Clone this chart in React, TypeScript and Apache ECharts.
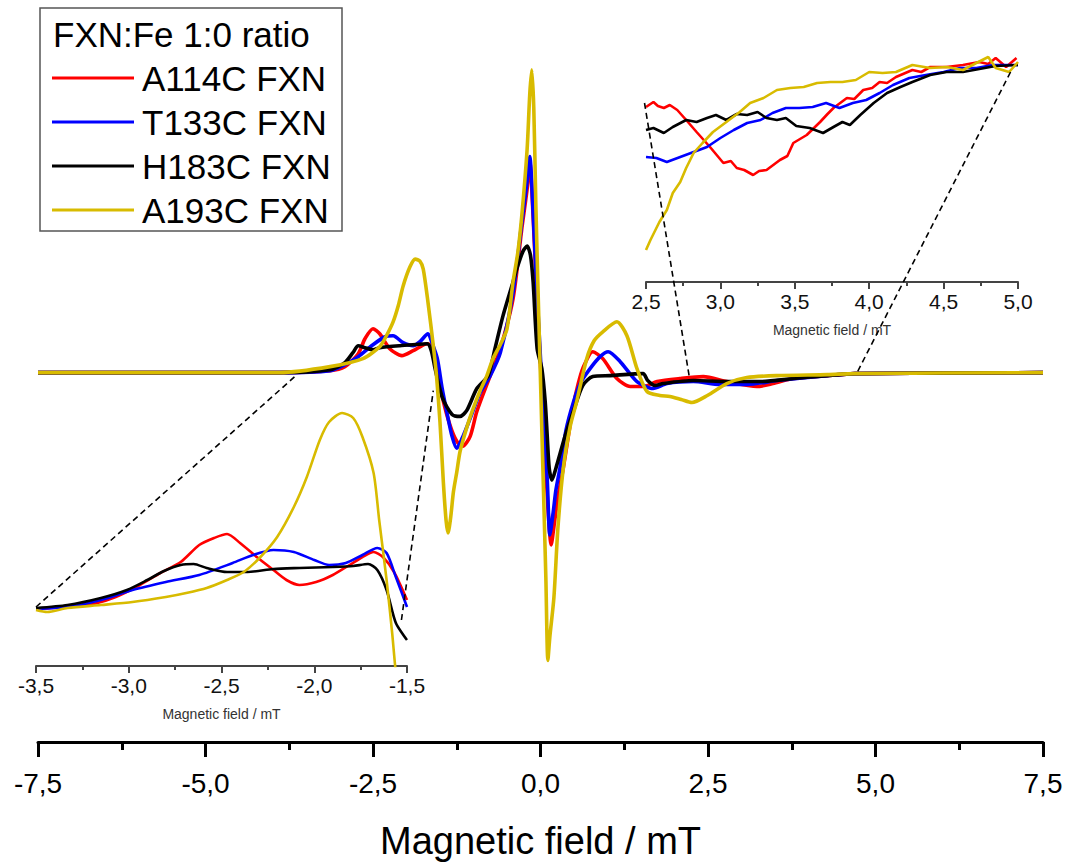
import React, { useEffect, useRef } from "react";
import * as echarts from "echarts";

const SERIES_NAMES = ["A114C FXN", "T133C FXN", "H183C FXN", "A193C FXN"];
const COLORS = ["#ff0000", "#0000ff", "#000000", "#d8bb00"];
const LEGEND_TITLE = "FXN:Fe 1:0 ratio";
const AXIS_TITLE = "Magnetic field / mT";

// Main spectrum: [field mT, intensity a.u.]
const redMain: [number, number][] = [
  [-7.5, 0], [-3.89, 0], [-3.14, 2], [-2.92, 6], [-2.72, 19], [-2.62, 34], [-2.5, 44], [-2.4, 39],
  [-2.25, 24], [-2.07, 17], [-1.9, 22], [-1.69, 29], [-1.62, 26], [-1.54, 1], [-1.46, -26], [-1.35, -53],
  [-1.25, -69], [-1.16, -74], [-1.05, -64], [-0.95, -39], [-0.75, -3], [-0.6, 24], [-0.41, 74], [-0.28, 144],
  [-0.2, 184], [-0.16, 212], [-0.11, 156], [-0.07, 98], [-0.01, 20], [0.05, -57], [0.11, -135], [0.16, -173],
  [0.2, -155], [0.26, -125], [0.34, -96], [0.42, -62], [0.49, -33], [0.56, -12], [0.63, 4], [0.78, 21],
  [0.93, 14], [1.14, -6], [1.34, -14], [1.53, -14], [1.74, -9], [2.08, -6], [2.43, -4], [2.78, -9],
  [3.23, -14], [3.47, -11], [3.77, -6], [4.28, -3], [4.69, -1], [7.5, 0],
];
const blueMain: [number, number][] = [
  [-7.5, 0], [-3.89, 0], [-3.14, 2], [-2.92, 8], [-2.72, 16], [-2.5, 28], [-2.32, 36], [-2.2, 37],
  [-2.05, 30], [-1.9, 27], [-1.8, 31], [-1.68, 39], [-1.62, 30], [-1.54, 14], [-1.47, -15], [-1.4, -39],
  [-1.32, -64], [-1.25, -76], [-1.17, -66], [-1.05, -46], [-0.9, -20], [-0.75, -3], [-0.6, 20], [-0.41, 80],
  [-0.28, 150], [-0.2, 192], [-0.16, 217], [-0.11, 160], [-0.07, 103], [-0.01, 27], [0.05, -49], [0.1, -106],
  [0.14, -163], [0.19, -140], [0.23, -118], [0.29, -96], [0.38, -58], [0.49, -30], [0.6, -10], [0.74, 4],
  [0.89, 16], [1.01, 21], [1.19, 11], [1.44, -9], [1.68, -16], [1.89, -11], [2.28, -9], [2.68, -12],
  [3.08, -12], [3.53, -8], [4.28, -3], [4.69, -1], [7.5, 0],
];
const blackMain: [number, number][] = [
  [-7.5, 0], [-3.89, 0], [-3.14, 3], [-2.92, 10], [-2.8, 20], [-2.72, 27], [-2.62, 25], [-2.5, 23],
  [-2.4, 25], [-2.1, 27], [-1.69, 29], [-1.63, 22], [-1.57, 3], [-1.46, -26], [-1.32, -42], [-1.2, -44],
  [-1.1, -38], [-0.95, -16], [-0.78, -3], [-0.68, 24], [-0.56, 57], [-0.41, 91], [-0.34, 107], [-0.26, 122],
  [-0.2, 127], [-0.15, 118], [-0.11, 91], [-0.05, 24], [0.02, 4], [0.07, -29], [0.1, -63], [0.13, -96],
  [0.17, -108], [0.23, -96], [0.37, -63], [0.49, -39], [0.63, -13], [0.78, -4], [1.04, -3], [1.53, -1],
  [1.6, -8], [1.71, -13], [1.83, -11], [2.28, -8], [2.78, -9], [3.28, -9], [3.77, -6], [4.28, -3],
  [4.69, -1], [7.5, 0],
];
const yellowMain: [number, number][] = [
  [-7.5, 0], [-3.89, 0], [-3.14, 6], [-2.65, 14], [-2.4, 26], [-2.3, 37], [-2.2, 51], [-2.12, 68],
  [-2.05, 87], [-1.95, 106], [-1.87, 114], [-1.8, 112], [-1.75, 104], [-1.68, 71], [-1.6, 27], [-1.55, -5],
  [-1.5, -50], [-1.45, -110], [-1.41, -148], [-1.38, -161], [-1.34, -145], [-1.3, -120], [-1.25, -100],
  [-1.2, -79], [-1.1, -55], [-1.02, -39], [-0.9, -18], [-0.8, -3], [-0.71, 14], [-0.6, 28], [-0.5, 44],
  [-0.41, 91], [-0.34, 120], [-0.28, 157], [-0.2, 224], [-0.16, 280], [-0.13, 304], [-0.1, 265], [-0.07, 170],
  [-0.04, 91], [-0.01, 17], [0.02, -58], [0.05, -132], [0.08, -206], [0.11, -289], [0.14, -265], [0.2, -226],
  [0.26, -156], [0.34, -96], [0.44, -55], [0.54, -29], [0.69, 14], [0.8, 32], [0.93, 41], [1.14, 51],
  [1.29, 37], [1.44, 4], [1.59, -19], [1.78, -23], [1.93, -24], [2.1, -27], [2.26, -30], [2.49, -23],
  [2.78, -11], [3.08, -5], [3.53, -3], [4.28, -2], [4.69, -1], [7.5, 0],
];

// Left inset (-3.5 .. -1.5 mT)
const redLeft: [number, number][] = [
  [-3.5, -2], [-3.33, 0], [-3.19, 3], [-3.07, 10], [-2.94, 22], [-2.83, 34], [-2.72, 45], [-2.62, 62],
  [-2.54, 69], [-2.47, 73], [-2.4, 64], [-2.31, 50], [-2.22, 37], [-2.15, 27], [-2.08, 22], [-1.99, 25],
  [-1.9, 32], [-1.81, 42], [-1.74, 50], [-1.68, 55], [-1.63, 50], [-1.57, 35], [-1.5, 7],
];
const blueLeft: [number, number][] = [
  [-3.5, -2], [-3.33, 0], [-3.15, 7], [-2.98, 17], [-2.8, 25], [-2.62, 32], [-2.44, 44], [-2.33, 52],
  [-2.22, 57], [-2.11, 55], [-2.0, 47], [-1.92, 42], [-1.83, 44], [-1.74, 52], [-1.66, 59], [-1.61, 54],
  [-1.56, 30], [-1.5, 0],
];
const blackLeft: [number, number][] = [
  [-3.5, -1], [-3.33, 2], [-3.15, 9], [-3.01, 17], [-2.9, 27], [-2.81, 36], [-2.72, 42], [-2.65, 43],
  [-2.58, 39], [-2.47, 35], [-2.36, 35], [-2.22, 38], [-2.08, 39], [-1.9, 40], [-1.79, 41], [-1.71, 43],
  [-1.66, 37], [-1.61, 17], [-1.56, -16], [-1.5, -33],
];
const yellowLeft: [number, number][] = [
  [-3.5, -3], [-3.44, -5], [-3.33, -1], [-3.15, 2], [-2.98, 5], [-2.8, 10], [-2.69, 14], [-2.58, 19],
  [-2.47, 27], [-2.38, 35], [-2.29, 50], [-2.2, 70], [-2.11, 100], [-2.04, 130], [-1.97, 167], [-1.92, 185],
  [-1.85, 194], [-1.79, 189], [-1.74, 170], [-1.68, 134], [-1.65, 87], [-1.61, 27], [-1.58, -26],
  [-1.56, -66], [-1.54, -90],
];

// Right inset (2.5 .. 5.0 mT)
const redRight: [number, number][] = [
  [2.5, 175], [2.55, 180], [2.58, 176], [2.62, 174], [2.66, 177], [2.71, 172], [2.77, 162], [2.84, 150],
  [2.93, 135], [3.02, 119], [3.07, 121], [3.11, 114], [3.16, 112], [3.22, 107], [3.26, 111], [3.31, 112],
  [3.4, 122], [3.45, 126], [3.49, 139], [3.58, 147], [3.67, 160], [3.72, 168], [3.76, 174], [3.85, 184],
  [3.9, 183], [3.96, 192], [4.02, 194], [4.07, 200], [4.12, 199], [4.18, 205], [4.29, 212], [4.35, 210],
  [4.41, 215], [4.52, 215], [4.63, 217], [4.74, 220], [4.8, 218], [4.85, 224], [4.92, 215], [4.99, 224],
];
const blueRight: [number, number][] = [
  [2.5, 125], [2.57, 124], [2.64, 120], [2.73, 125], [2.82, 130], [2.91, 135], [3.0, 144], [3.09, 152],
  [3.18, 159], [3.27, 162], [3.35, 169], [3.44, 174], [3.53, 174], [3.62, 175], [3.71, 179], [3.8, 174],
  [3.89, 179], [3.98, 182], [4.07, 189], [4.16, 197], [4.27, 204], [4.38, 207], [4.5, 210], [4.61, 214],
  [4.72, 214], [4.83, 217], [5.0, 217],
];
const blackRight: [number, number][] = [
  [2.5, 152], [2.55, 154], [2.62, 149], [2.68, 155], [2.77, 162], [2.84, 160], [2.91, 164], [2.97, 167],
  [3.04, 162], [3.11, 168], [3.18, 167], [3.25, 170], [3.31, 164], [3.38, 162], [3.44, 164], [3.51, 156],
  [3.6, 154], [3.69, 149], [3.76, 155], [3.82, 160], [3.87, 157], [3.94, 167], [4.03, 179], [4.12, 189],
  [4.21, 195], [4.29, 200], [4.41, 207], [4.52, 210], [4.63, 210], [4.74, 213], [4.85, 216], [5.0, 217],
];
const yellowRight: [number, number][] = [
  [2.5, 32], [2.53, 42], [2.59, 60], [2.64, 72], [2.68, 89], [2.73, 100], [2.77, 114], [2.82, 129],
  [2.88, 139], [2.95, 150], [3.04, 160], [3.13, 170], [3.2, 179], [3.29, 184], [3.38, 192], [3.47, 194],
  [3.56, 195], [3.65, 199], [3.74, 200], [3.82, 200], [3.91, 202], [4.0, 210], [4.09, 209], [4.18, 210],
  [4.29, 217], [4.41, 214], [4.52, 215], [4.63, 212], [4.72, 219], [4.8, 225], [4.85, 214], [4.94, 210],
  [5.0, 220],
];

// Zoom connector lines: [inset grid, inset point] -> [main point]
const connectors: { inset: number; from: [number, number]; to: [number, number] }[] = [
  { inset: 1, from: [-3.5, 0], to: [-3.65, -3] },
  { inset: 1, from: [-1.53, -13], to: [-1.6, -18] },
  { inset: 2, from: [2.49, 179], to: [2.22, -4] },
  { inset: 2, from: [4.95, 210], to: [4.71, -2] },
];

const FONT = "'Liberation Sans', Arial, Helvetica, sans-serif";
const fmt = (v: number) => v.toFixed(1).replace(".", ",");

export default function App() {
  const ref = useRef<HTMLDivElement>(null);
  useEffect(() => {
    if (!ref.current) return;
    const chart = echarts.init(ref.current, undefined, { renderer: "svg" });
    const mainSets = [redMain, blueMain, blackMain, yellowMain];
    const leftSets = [redLeft, blueLeft, blackLeft, yellowLeft];
    const rightSets = [redRight, blueRight, blackRight, yellowRight];

    const insetAxis = (gi: number, min: number, max: number) => ({
      gridIndex: gi,
      type: "value",
      min,
      max,
      interval: 0.5,
      axisLine: { onZero: false, lineStyle: { color: "#444", width: 2 } },
      axisTick: { length: 7, lineStyle: { color: "#444", width: 2 } },
      minorTick: { show: true, splitNumber: 2, length: 4, lineStyle: { color: "#444", width: 2 } },
      splitLine: { show: false },
      minorSplitLine: { show: false },
      axisLabel: { fontSize: 21, color: "#111", margin: 9, fontFamily: FONT, formatter: fmt },
      name: AXIS_TITLE,
      nameLocation: "middle",
      nameGap: 41,
      nameTextStyle: { fontSize: 14, color: "#333", fontFamily: FONT },
    });

    const mkSeries = (sets: [number, number][][], gi: number, width: number, smooth: number | boolean) =>
      sets.map((d, i) => ({
        type: "line",
        name: SERIES_NAMES[i],
        xAxisIndex: gi,
        yAxisIndex: gi,
        data: d,
        showSymbol: false,
        symbol: "none",
        smooth,
        lineStyle: { color: COLORS[i], width },
        itemStyle: { color: COLORS[i] },
        z: 2 + i,
      }));

    chart.setOption({
      animation: false,
      backgroundColor: "#ffffff",
      textStyle: { fontFamily: FONT },
      grid: [
        { left: 38, right: 25, top: 50, bottom: 120 },
        { left: 36, right: 661, top: 390, bottom: 199 },
        { left: 646, right: 50, top: 50, bottom: 583 },
      ],
      xAxis: [
        {
          gridIndex: 0,
          type: "value",
          min: -7.5,
          max: 7.5,
          interval: 2.5,
          axisLine: { onZero: false, lineStyle: { color: "#000", width: 3 } },
          axisTick: { length: 15, lineStyle: { color: "#000", width: 3 } },
          minorTick: { show: true, splitNumber: 2, length: 8, lineStyle: { color: "#000", width: 3 } },
          splitLine: { show: false },
          minorSplitLine: { show: false },
          axisLabel: { fontSize: 28, color: "#000", margin: 27, fontFamily: FONT, formatter: fmt },
          name: AXIS_TITLE,
          nameLocation: "middle",
          nameGap: 80,
          nameTextStyle: { fontSize: 38, color: "#000", fontFamily: FONT },
        },
        insetAxis(1, -3.5, -1.5),
        insetAxis(2, 2.5, 5.0),
      ],
      yAxis: [
        { gridIndex: 0, type: "value", min: -371, max: 324, show: false, splitLine: { show: false } },
        { gridIndex: 1, type: "value", min: -59, max: 217, show: false, splitLine: { show: false } },
        { gridIndex: 2, type: "value", min: 0, max: 232, show: false, splitLine: { show: false } },
      ],
      legend: {
        data: SERIES_NAMES,
        orient: "vertical",
        left: 52,
        top: 56,
        padding: 0,
        itemGap: 0,
        itemWidth: 82,
        itemHeight: 3,
        icon: "rect",
        selectedMode: false,
        textStyle: { fontSize: 35, color: "#000", lineHeight: 44, fontFamily: FONT, padding: [0, 0, 0, 3] },
        z: 10,
      },
      series: [
        ...mkSeries(mainSets, 0, 3.6, 0.25),
        ...mkSeries(leftSets, 1, 2.6, 0.25),
        ...mkSeries(rightSets, 2, 2.6, false),
      ],
    });

    const lines = connectors.map((c) => {
      const a = chart.convertToPixel({ xAxisIndex: c.inset, yAxisIndex: c.inset }, c.from) as number[];
      const b = chart.convertToPixel({ xAxisIndex: 0, yAxisIndex: 0 }, c.to) as number[];
      return {
        type: "line",
        shape: { x1: a[0], y1: a[1], x2: b[0], y2: b[1] },
        style: { stroke: "#000", lineWidth: 1.6, lineDash: [6, 4] },
        z: 20,
      };
    });

    chart.setOption({
      graphic: [
        {
          type: "rect",
          shape: { x: 40, y: 8, width: 302, height: 223 },
          style: { fill: "rgba(255,255,255,0)", stroke: "#555", lineWidth: 1.5 },
          z: 1,
        },
        {
          type: "text",
          x: 53,
          y: 34,
          style: {
            text: LEGEND_TITLE,
            fontSize: 35,
            fontFamily: FONT,
            fill: "#000",
            verticalAlign: "middle",
          },
          z: 10,
        },
        ...lines,
      ],
    });

    return () => chart.dispose();
  }, []);

  return (
    <div
      ref={ref}
      style={{ position: "fixed", left: 0, top: 0, width: 1068, height: 865, background: "#fff" }}
    />
  );
}
